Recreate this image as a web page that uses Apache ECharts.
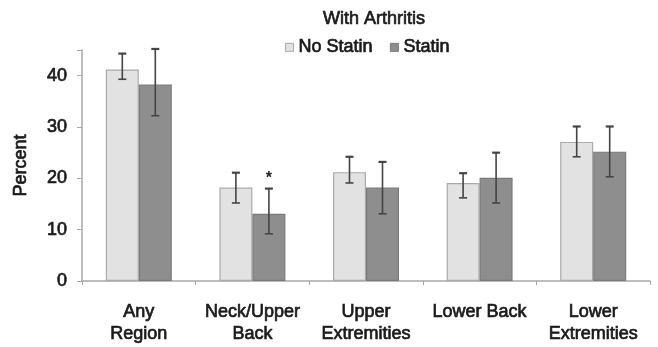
<!DOCTYPE html>
<html><head><meta charset="utf-8">
<script src="https://cdn.jsdelivr.net/npm/echarts@6/dist/echarts.min.js"></script>
<style>html,body{margin:0;padding:0;background:#fff}#c{width:658px;height:347px}</style>
</head><body><div id="c"></div>
<script>
const categories = ['Any\nRegion', 'Neck/Upper\nBack', 'Upper\nExtremities', 'Lower Back', 'Lower\nExtremities'];
const noStatin = [41.2, 18.2, 21.2, 19.1, 27.1];
const noStatinLow = [39.3, 15.2, 19.1, 16.2, 24.2];
const noStatinHigh = [44.3, 21.1, 24.2, 21.0, 30.1];
const statin = [38.3, 13.1, 18.2, 20.1, 25.2];
const statinLow = [32.2, 9.2, 13.1, 15.2, 20.3];
const statinHigh = [45.2, 18.0, 23.2, 25.0, 30.1];
const sigMarks = ['', '*', '', '', ''];
const yTicks = [0, 10, 20, 30, 40];

const FONT = 'Liberation Sans';
const TXT = '#1a1a1a';
const HEAVY = {textBorderColor: '#1a1a1a', textBorderWidth: 0.7};
const BAR_W = 33;

const errData = [];
categories.forEach((c, i) => {
  errData.push([i, noStatinLow[i], noStatinHigh[i], 0, '']);
  errData.push([i, statinLow[i], statinHigh[i], 1, sigMarks[i]]);
});

const chart = echarts.init(document.getElementById('c'), null, {renderer: 'canvas'});
chart.setOption({
  animation: false,
  backgroundColor: '#fff',
  title: {
    text: 'With Arthritis', left: 318, top: 5,
    textStyle: Object.assign({fontFamily: FONT, fontSize: 18, fontWeight: 'normal', color: TXT}, HEAVY)
  },
  legend: {
    left: 280, top: 33, icon: 'rect', itemWidth: 8, itemHeight: 8, itemGap: 17,
    textStyle: Object.assign({fontFamily: FONT, fontSize: 18, fontWeight: 'normal', color: TXT, padding: [6, 0, 0, 0]}, HEAVY),
    data: [
      {name: 'No Statin', itemStyle: {color: '#e2e2e2', borderColor: '#aaaaaa', borderWidth: 1}},
      {name: 'Statin', itemStyle: {color: '#8e8e8e', borderColor: '#7a7a7a', borderWidth: 1}}
    ]
  },
  grid: {left: 82, right: 8, top: 50, bottom: 66},
  xAxis: {
    type: 'category', data: categories,
    axisLine: {lineStyle: {color: '#a8a8a8', width: 1.5}},
    axisTick: {show: true, length: 4, lineStyle: {color: '#a8a8a8'}},
    axisLabel: Object.assign({fontFamily: FONT, fontSize: 18, color: TXT, margin: 20, lineHeight: 22, interval: 0}, HEAVY)
  },
  yAxis: {
    type: 'value', min: 0, max: 45, interval: 10,
    name: 'Percent', nameLocation: 'middle', nameGap: 52, nameRotate: 90,
    nameTextStyle: Object.assign({fontFamily: FONT, fontSize: 18, fontWeight: 'normal', color: TXT}, HEAVY),
    axisLine: {show: true, lineStyle: {color: '#a8a8a8', width: 1.5}},
    axisTick: {show: true, length: 5, lineStyle: {color: '#a8a8a8'}},
    splitLine: {show: false},
    axisLabel: Object.assign({fontFamily: FONT, fontSize: 18, fontWeight: 'normal', color: TXT, margin: 15,
      padding: [7, 0, 0, 0],
      formatter: v => yTicks.includes(v) ? String(v) : ''}, HEAVY)
  },
  series: [
    {name: 'No Statin', type: 'bar', data: noStatin, barWidth: BAR_W, barGap: '0%',
     itemStyle: {color: '#e2e2e2', borderColor: '#aaaaaa', borderWidth: 1.2}},
    {name: 'Statin', type: 'bar', data: statin, barWidth: BAR_W, barGap: '0%',
     itemStyle: {color: '#8e8e8e', borderColor: '#7a7a7a', borderWidth: 1.2}},
    {type: 'custom', data: errData, z: 10,
     renderItem: function (params, api) {
       const idx = api.value(0);
       const s = api.value(3);
       const lo = api.coord([idx, api.value(1)]);
       const hi = api.coord([idx, api.value(2)]);
       const x = lo[0] + (s === 0 ? -BAR_W / 2 : BAR_W / 2);
       const cap = 4;
       const st = {stroke: '#444', lineWidth: 1.6};
       const children = [
         {type: 'line', shape: {x1: x, y1: lo[1], x2: x, y2: hi[1]}, style: st},
         {type: 'line', shape: {x1: x - cap, y1: lo[1], x2: x + cap, y2: lo[1]}, style: st},
         {type: 'line', shape: {x1: x - cap, y1: hi[1], x2: x + cap, y2: hi[1]}, style: {stroke: '#444', lineWidth: 2.2}}
       ];
       const mark = api.value(4);
       if (mark) {
         children.push({type: 'text', x: x, y: hi[1] - 2,
           style: {text: mark, fontFamily: FONT, fontSize: 16, fontWeight: 'bold', fill: '#222',
                   align: 'center', verticalAlign: 'bottom'}});
       }
       return {type: 'group', children: children};
     }}
  ]
});
</script></body></html>
